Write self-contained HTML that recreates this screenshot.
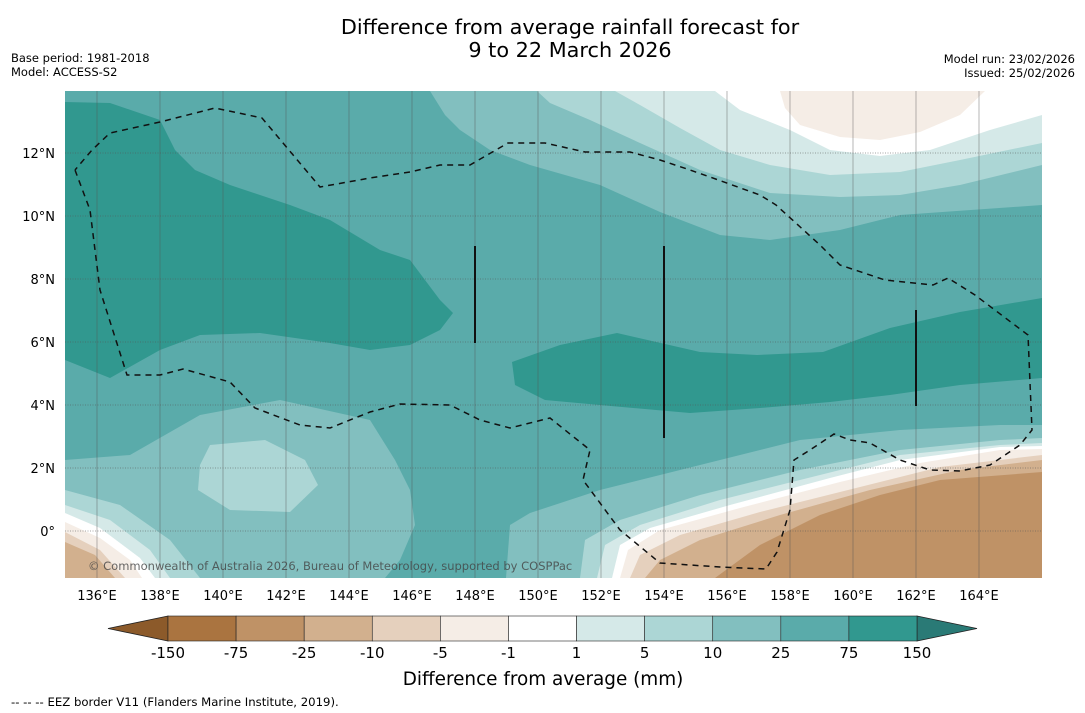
<!DOCTYPE html>
<html><head><meta charset="utf-8"><style>
body{margin:0;background:#fff;}
svg{display:block;font-family:"DejaVu Sans","Liberation Sans",sans-serif;}
</style></head><body>
<svg id="chart" width="1085" height="713" viewBox="0 0 1085 713">
<rect width="1085" height="713" fill="#fff"/>
<text x="570" y="34" font-size="20.8" text-anchor="middle">Difference from average rainfall forecast for</text>
<text x="570" y="57" font-size="20.8" text-anchor="middle">9 to 22 March 2026</text>
<text x="11" y="62" font-size="11.5">Base period: 1981-2018</text>
<text x="11" y="76" font-size="11.5">Model: ACCESS-S2</text>
<text x="1075" y="63" font-size="11.5" text-anchor="end">Model run: 23/02/2026</text>
<text x="1075" y="77" font-size="11.5" text-anchor="end">Issued: 25/02/2026</text>
<defs><clipPath id="mapclip"><rect x="65" y="91" width="977" height="487"/></clipPath></defs>
<g clip-path="url(#mapclip)">
<rect x="65" y="91" width="977" height="487" fill="#5aabaa"/>
<path d="M65,102 L110,103 160,120 175,150 195,170 230,185 290,205 330,220 380,250 410,260 440,300 453,313 440,330 410,345 370,350 330,343 260,333 200,335 160,350 110,378 65,360Z" fill="#31988f"/>
<path d="M512,362 L560,345 617,333 700,352 757,355 823,352 890,328 960,312 1042,298 1042,378 960,385 890,395 830,402 760,408 690,413 600,405 545,400 515,385Z" fill="#31988f"/>
<path d="M430,91 L1042,91 1042,205 900,215 840,230 770,240 720,235 660,212 600,185 530,165 490,150 460,130 445,115Z" fill="#82bfbf"/>
<path d="M537,91 L1042,91 1042,165 960,185 900,195 840,197 770,193 700,170 640,143 590,120 550,103Z" fill="#acd6d5"/>
<path d="M615,91 L1042,91 1042,143 960,160 900,172 830,175 770,165 720,150 680,128 640,105Z" fill="#d5e9e8"/>
<path d="M715,91 L1042,91 1042,115 990,130 930,150 880,156 830,150 790,130 740,110Z" fill="#ffffff"/>
<path d="M780,91 L985,91 960,115 920,132 880,140 840,137 800,125 785,108Z" fill="#f5ede6"/>
<path d="M65,460 L130,455 200,415 280,400 370,420 395,460 410,490 415,525 400,560 385,578 65,578Z" fill="#82bfbf"/>
<path d="M210,445 L265,440 305,460 318,485 290,512 230,510 198,490 200,465Z" fill="#acd6d5"/>
<path d="M65,490 L120,505 170,540 200,578 65,578Z" fill="#acd6d5"/>
<path d="M65,505 L110,520 150,550 170,578 65,578Z" fill="#d5e9e8"/>
<path d="M65,513 L100,528 140,558 155,578 65,578Z" fill="#ffffff"/>
<path d="M65,522 L100,538 130,560 142,578 65,578Z" fill="#f5ede6"/>
<path d="M65,532 L100,550 125,578 65,578Z" fill="#e5d0bd"/>
<path d="M65,542 L95,555 115,578 65,578Z" fill="#d2b08e"/>
<path d="M506,578 L510,525 530,513 600,490 700,465 800,440 900,430 1000,425 1042,425 1042,578Z" fill="#82bfbf"/>
<path d="M580,578 L585,540 620,520 700,495 800,470 900,450 1000,440 1042,438 1042,578Z" fill="#acd6d5"/>
<path d="M597,578 L605,545 640,525 720,500 820,475 900,455 1000,445 1042,443 1042,578Z" fill="#d5e9e8"/>
<path d="M612,578 L620,545 650,528 730,505 830,478 900,460 1000,447 1042,446 1042,578Z" fill="#ffffff"/>
<path d="M620,578 L628,550 660,530 740,508 840,482 920,463 1000,450 1042,449 1042,578Z" fill="#f5ede6"/>
<path d="M630,578 L640,555 680,535 760,512 860,487 940,467 1042,455 1042,578Z" fill="#e5d0bd"/>
<path d="M645,578 L660,560 700,540 780,515 870,490 960,470 1042,460 1042,578Z" fill="#d2b08e"/>
<path d="M715,578 L760,545 820,515 880,495 940,480 1042,472 1042,578Z" fill="#bf9266"/>
<g id="grid"></g>
<path d="M75,170 L90,210 100,290 127,375 160,375 183,369 230,382 255,408 300,425 330,428 370,412 400,404 450,405 480,420 510,428 550,418 590,450 583,480 620,530 660,563 720,567 766,569 777,552 790,510 794,460 810,450 834,434 850,440 870,443 900,460 930,470 960,471 990,465 1020,445 1032,430 1028,335 975,295 948,278 933,285 885,280 840,265 820,245 776,205 760,195 710,177 690,170 660,160 630,152 585,152 545,143 508,143 470,165 440,165 410,172 370,178 320,187 262,118 215,108 160,122 110,133 92,150 75,170" fill="none" stroke="#111" stroke-width="1.5" stroke-dasharray="6,5"/>
<line x1="475" y1="246" x2="475" y2="343" stroke="#111" stroke-width="2"/>
<line x1="664" y1="246" x2="664" y2="438" stroke="#111" stroke-width="2"/>
<line x1="916" y1="310" x2="916" y2="406" stroke="#111" stroke-width="2"/>
<text x="88" y="570" font-size="11.5" fill="#444" opacity="0.8">© Commonwealth of Australia 2026, Bureau of Meteorology, supported by COSPPac</text>
</g>
<g id="axes"></g>
<g id="cbar"></g>
<text x="543" y="685" font-size="18.4" text-anchor="middle">Difference from average (mm)</text>
<text x="11" y="706" font-size="11.7">--  --  -- EEZ border V11 (Flanders Marine Institute, 2019).</text>
</svg>
<script>
const lonTicks=[136,138,140,142,144,146,148,150,152,154,156,158,160,162,164];
const latTicks=[12,10,8,6,4,2,0];
const latLabels=["12°N","10°N","8°N","6°N","4°N","2°N","0°"];
const levelLabels=["-150","-75","-25","-10","-5","-1","1","5","10","25","75","150"];
const levelColors=["#aa7440","#bf9266","#d2b08e","#e5d0bd","#f5ede6","#ffffff","#d5e9e8","#acd6d5","#82bfbf","#5aabaa","#31988f"];
const NS="http://www.w3.org/2000/svg";
function lonX(l){return 97+(l-136)*31.5;}
function latY(l){return 531-l*31.5;}
function mk(t,a,p){const e=document.createElementNS(NS,t);for(const k in a)e.setAttribute(k,a[k]);p.appendChild(e);return e;}
const grid=document.getElementById('grid'),axes=document.getElementById('axes'),cbar=document.getElementById('cbar');
lonTicks.forEach(l=>{
  const ln=mk('line',{x1:lonX(l),x2:lonX(l),y1:91,y2:578,stroke:'#555','stroke-width':0.7,opacity:0.6},grid);
  
  
  const t=mk('text',{x:lonX(l),y:600,'font-size':13,'text-anchor':'middle'},axes);
  t.textContent=l+"°E";
  
  
});
latTicks.forEach((l,i)=>{
  const ln=mk('line',{x1:65,x2:1042,y1:latY(l),y2:latY(l),stroke:'#555','stroke-width':0.8,'stroke-dasharray':'1,1.5',opacity:0.7},grid);
  
  
  const t=mk('text',{x:55,y:latY(l)+5,'font-size':13,'text-anchor':'end'},axes);
  t.textContent=latLabels[i];
  
  
});
const cx0=168,cx1=917,cy=616,ch=25,w=(cx1-cx0)/levelColors.length;
const la=mk('path',{d:`M${cx0},${cy} L108,${cy+ch/2} L${cx0},${cy+ch}Z`,fill:'#8c5a2a',stroke:'#222','stroke-width':0.8},cbar);


const ra=mk('path',{d:`M${cx1},${cy} L977,${cy+ch/2} L${cx1},${cy+ch}Z`,fill:'#2a7a76',stroke:'#222','stroke-width':0.8},cbar);


levelColors.forEach((c,i)=>{
  const r=mk('rect',{x:cx0+i*w,y:cy,width:w,height:ch,fill:c,stroke:'#222','stroke-width':0.6},cbar);
  
  
});
levelLabels.forEach((s,i)=>{
  const t=mk('text',{x:cx0+i*w,y:658,'font-size':15,'text-anchor':'middle'},cbar);
  t.textContent=s;
  
  
});
</script>
</body></html>
